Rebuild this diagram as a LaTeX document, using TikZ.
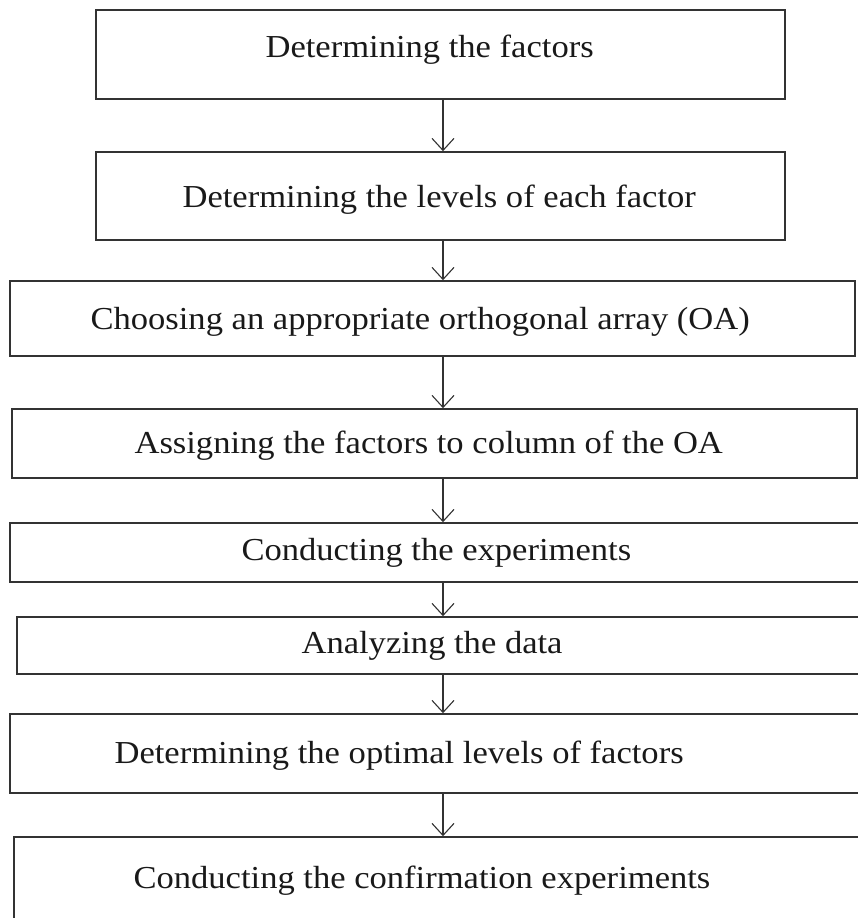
\documentclass[tikz,border=0pt]{standalone}
\usepackage{fontspec}
\setmainfont{Liberation Serif}[FakeStretch=1.08]
\usetikzlibrary{arrows.meta}

\def\spinex{443}

\begin{document}
\begin{tikzpicture}[x=1pt,y=-1pt,>={Straight Barb[length=12pt,width=22pt]},line width=1.1pt,draw=black!80]
    \tikzstyle{stepbox}=[draw,rectangle,line width=1.6pt,inner sep=0pt]
    \tikzstyle{steptext}=[anchor=base west,inner sep=0pt,text=black!90,font=\fontsize{32}{38}\selectfont]

    \useasboundingbox (0,0) rectangle (858,918);
    \clip (0,0) rectangle (858,918);

    % Draw the step boxes, top to bottom
    \node[stepbox,minimum width=689pt,minimum height=89pt] (s1) at (440.5,54.5) {};
    \node[stepbox,minimum width=689pt,minimum height=88pt] (s2) at (440.5,196) {};
    \node[stepbox,minimum width=845pt,minimum height=75pt] (s3) at (432.5,318.5) {};
    \node[stepbox,minimum width=845pt,minimum height=69pt] (s4) at (434.5,443.5) {};
    \node[stepbox,minimum width=866pt,minimum height=59pt] (s5) at (443,552.5) {};
    \node[stepbox,minimum width=852pt,minimum height=57pt] (s6) at (443,645.5) {};
    \node[stepbox,minimum width=866pt,minimum height=79pt] (s7) at (443,753.5) {};
    \node[stepbox,minimum width=858pt,minimum height=123pt] (s8) at (443,898.5) {};

    % Texts of the steps
    \node[steptext] (t1) at (265,57) {Determining the factors};
    \node[steptext] (t2) at (182,207) {Determining the levels of each factor};
    \node[steptext] (t3) at (90,329) {Choosing an appropriate orthogonal array (OA)};
    \node[steptext] (t4) at (134,453) {Assigning the factors to column of the OA};
    \node[steptext] (t5) at (241,560) {Conducting the experiments};
    \node[steptext] (t6) at (301,653) {Analyzing the data};
    \node[steptext] (t7) at (114,763) {Determining the optimal levels of factors};
    \node[steptext] (t8) at (133,888) {Conducting the confirmation experiments};

    % Connect each step with the next one
    \coordinate (spine) at (\spinex,0);
    \foreach \a/\b in {1/2,2/3,3/4,4/5,5/6,6/7,7/8}
        \draw[->] (s\a.south -| spine) -- (s\b.north -| spine);
\end{tikzpicture}
\end{document}
